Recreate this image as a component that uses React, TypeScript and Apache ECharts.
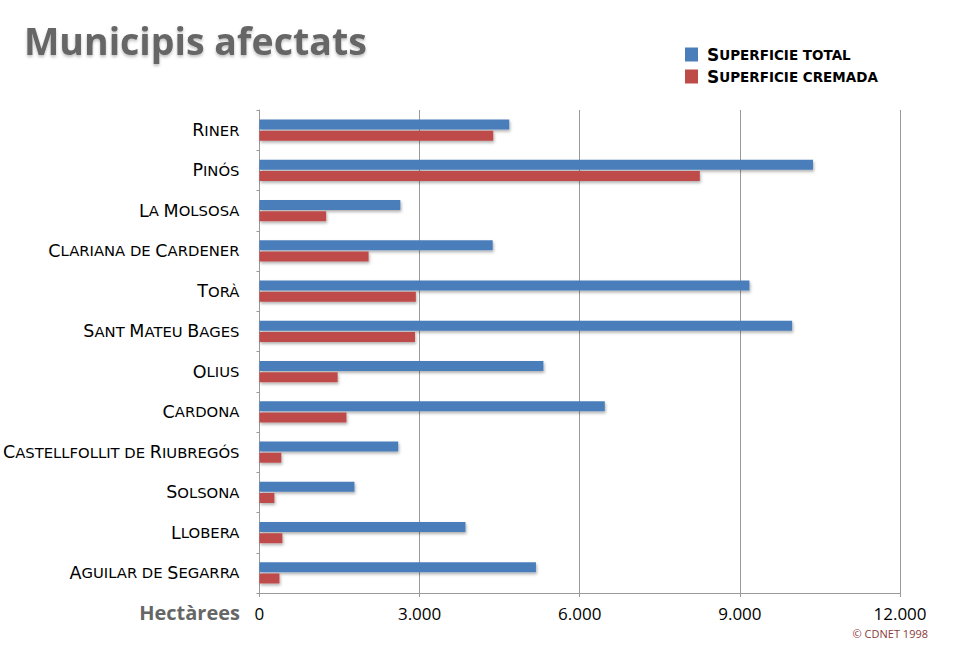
import React, { useEffect, useRef } from "react";
import * as echarts from "echarts";

const categories = [
  "Riner",
  "Pinós",
  "La Molsosa",
  "Clariana de Cardener",
  "Torà",
  "Sant Mateu Bages",
  "Olius",
  "Cardona",
  "Castellfollit de Riubregós",
  "Solsona",
  "Llobera",
  "Aguilar de Segarra",
];
const superficieTotal = [4680, 10370, 2640, 4370, 9180, 9980, 5320, 6470, 2600, 1780, 3860, 5180];
const superficieCremada = [4380, 8250, 1250, 2045, 2930, 2915, 1465, 1630, 410, 280, 430, 375];
const seriesNames = ["Superficie total", "Superficie cremada"];
const xTicks = [0, 3000, 6000, 9000, 12000];

const smallCaps = (s: string) => {
  let out = "";
  let run = "";
  let runBig: boolean | null = null;
  const flush = () => {
    if (run) out += `{${runBig ? "L" : "s"}|${runBig ? run : run.toUpperCase()}}`;
    run = "";
  };
  for (const ch of s) {
    const big = ch !== ch.toLowerCase();
    if (runBig !== null && big !== runBig) flush();
    runBig = big;
    run += ch;
  }
  flush();
  return out;
};

const fmt = (v: number) => String(v).replace(/\B(?=(\d{3})+(?!\d))/g, ".");

export default function App() {
  const ref = useRef<HTMLDivElement>(null);
  useEffect(() => {
    if (!ref.current) return;
    const chart = echarts.init(ref.current, undefined, { renderer: "svg" });
    const font = "DejaVu Sans";
    chart.setOption({
      animation: false,
      backgroundColor: "#ffffff",
      grid: { left: 258, right: 60, top: 110, bottom: 53, containLabel: false },
      legend: {
        orient: "vertical",
        left: 680,
        top: 41,
        itemWidth: 13,
        itemHeight: 14,
        itemGap: 5,
        icon: "rect",
        data: seriesNames,
        formatter: (n: string) => smallCaps(n),
        textStyle: {
          padding: [0, 0, 0, 4],
          rich: {
            L: { fontFamily: font, fontSize: 17, fontWeight: "bold", color: "#000", lineHeight: 17 },
            s: { fontFamily: font, fontSize: 13.5, fontWeight: "bold", color: "#000", lineHeight: 17 },
          },
        },
      },
      xAxis: {
        type: "value",
        min: 0,
        max: 12000,
        interval: 3000,
        axisLine: { show: true, lineStyle: { color: "#9a9a9a", width: 1 } },
        axisTick: { show: true, length: 4, lineStyle: { color: "#9a9a9a" } },
        splitLine: { show: true, lineStyle: { color: "#9a9a9a", width: 1 } },
        axisLabel: {
          formatter: (v: number) => fmt(v),
          fontFamily: "Open Sans",
          fontSize: 17,
          color: "#000",
          margin: 12,
          customValues: xTicks,
        },
      },
      yAxis: {
        type: "category",
        data: categories,
        inverse: true,
        axisLine: { show: true, lineStyle: { color: "#9a9a9a", width: 1 } },
        axisTick: { show: true, length: 3, inside: false, lineStyle: { color: "#9a9a9a" } },
        axisLabel: {
          margin: 20,
          formatter: (v: string) => smallCaps(v),
          rich: {
            L: { fontFamily: font, fontSize: 17.5, color: "#000" },
            s: { fontFamily: font, fontSize: 14.8, color: "#000" },
          },
        },
      },
      series: [
        {
          name: seriesNames[0],
          type: "bar",
          data: superficieTotal,
          barWidth: 10,
          barGap: "12%",
          itemStyle: {
            color: "#4a7ebb",
            shadowColor: "rgba(0,0,0,0.3)",
            shadowBlur: 3,
            shadowOffsetY: 2,
            shadowOffsetX: 1,
          },
        },
        {
          name: seriesNames[1],
          type: "bar",
          data: superficieCremada,
          barWidth: 10,
          itemStyle: {
            color: "#be4b48",
            shadowColor: "rgba(0,0,0,0.3)",
            shadowBlur: 3,
            shadowOffsetY: 2,
            shadowOffsetX: 1,
          },
        },
      ],
      graphic: [
        {
          type: "text",
          left: 24,
          top: 21,
          style: {
            text: "Municipis afectats",
            font: "bold 37.5px 'Open Sans'",
            fill: "#666666",
            textShadowColor: "rgba(0,0,0,0.25)",
            textShadowBlur: 3,
            textShadowOffsetY: 2,
          },
        },
        {
          type: "text",
          right: 960 - 240,
          top: 602,
          style: {
            text: "Hectàrees",
            font: "bold 20px 'Open Sans'",
            fill: "#666666",
          },
        },
        {
          type: "text",
          right: 32,
          top: 628,
          style: {
            text: "© CDNET 1998",
            font: "11px 'Open Sans'",
            fill: "#8b3a3a",
          },
        },
      ],
    });
    return () => chart.dispose();
  }, []);
  return <div ref={ref} style={{ width: 960, height: 646, position: "absolute", left: 0, top: 0 }} />;
}
